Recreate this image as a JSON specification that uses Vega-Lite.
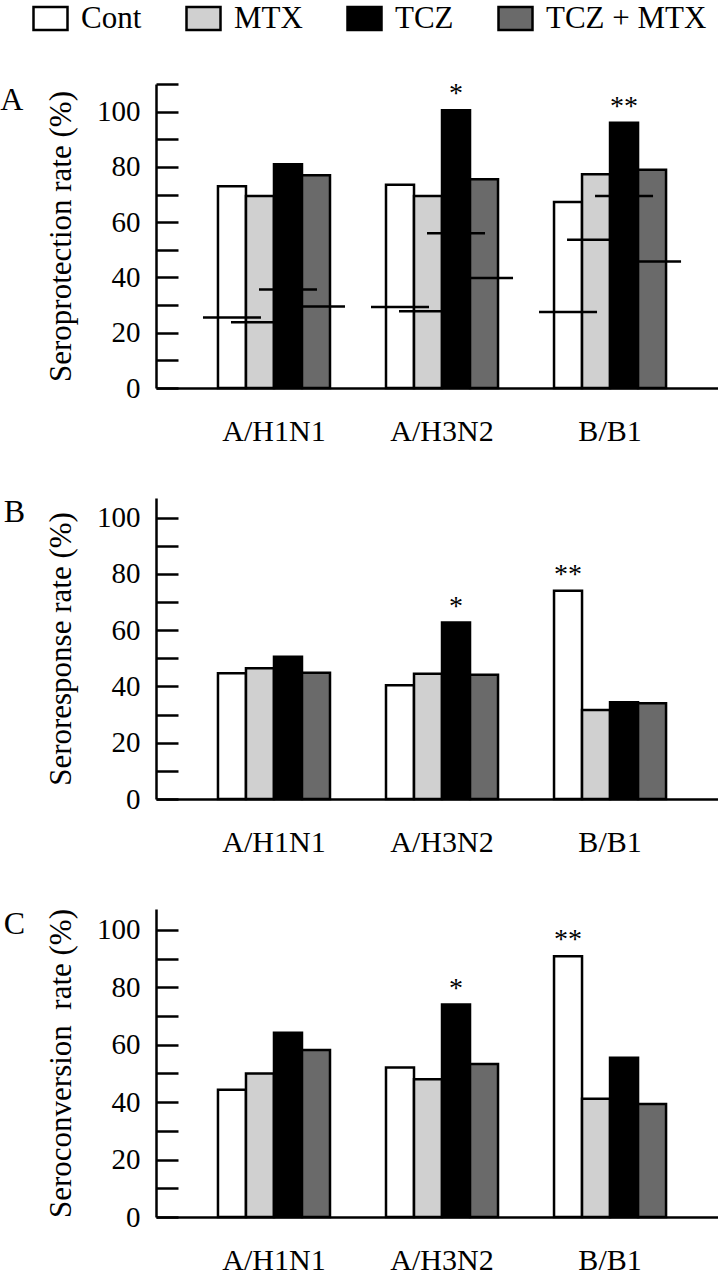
{
  "$schema": "https://vega.github.io/schema/vega-lite/v6.json",
  "padding": {"left": 0, "top": 0, "right": 0, "bottom": 0},
  "background": "white",
  "bounds": "flush",
  "spacing": 110,
  "datasets": {
    "protection": [
      {"virus": "A/H1N1", "group": "Cont", "value": 73, "pre": 25.5, "sig": ""},
      {"virus": "A/H1N1", "group": "MTX", "value": 69.5, "pre": 23.8, "sig": ""},
      {"virus": "A/H1N1", "group": "TCZ", "value": 81, "pre": 35.6, "sig": ""},
      {"virus": "A/H1N1", "group": "TCZ + MTX", "value": 77, "pre": 29.5, "sig": ""},
      {"virus": "A/H3N2", "group": "Cont", "value": 73.5, "pre": 29.3, "sig": ""},
      {"virus": "A/H3N2", "group": "MTX", "value": 69.5, "pre": 27.8, "sig": ""},
      {"virus": "A/H3N2", "group": "TCZ", "value": 100.5, "pre": 56, "sig": "*"},
      {"virus": "A/H3N2", "group": "TCZ + MTX", "value": 75.5, "pre": 39.8, "sig": ""},
      {"virus": "B/B1", "group": "Cont", "value": 67.3, "pre": 27.5, "sig": ""},
      {"virus": "B/B1", "group": "MTX", "value": 77.3, "pre": 53.6, "sig": ""},
      {"virus": "B/B1", "group": "TCZ", "value": 96, "pre": 69.5, "sig": "**"},
      {"virus": "B/B1", "group": "TCZ + MTX", "value": 79, "pre": 45.8, "sig": ""}
    ],
    "response": [
      {"virus": "A/H1N1", "group": "Cont", "value": 44.7, "sig": ""},
      {"virus": "A/H1N1", "group": "MTX", "value": 46.5, "sig": ""},
      {"virus": "A/H1N1", "group": "TCZ", "value": 50.6, "sig": ""},
      {"virus": "A/H1N1", "group": "TCZ + MTX", "value": 44.9, "sig": ""},
      {"virus": "A/H3N2", "group": "Cont", "value": 40.4, "sig": ""},
      {"virus": "A/H3N2", "group": "MTX", "value": 44.5, "sig": ""},
      {"virus": "A/H3N2", "group": "TCZ", "value": 62.7, "sig": "*"},
      {"virus": "A/H3N2", "group": "TCZ + MTX", "value": 44.2, "sig": ""},
      {"virus": "B/B1", "group": "Cont", "value": 74, "sig": "**"},
      {"virus": "B/B1", "group": "MTX", "value": 31.6, "sig": ""},
      {"virus": "B/B1", "group": "TCZ", "value": 34.4, "sig": ""},
      {"virus": "B/B1", "group": "TCZ + MTX", "value": 34, "sig": ""}
    ],
    "conversion": [
      {"virus": "A/H1N1", "group": "Cont", "value": 44.3, "sig": ""},
      {"virus": "A/H1N1", "group": "MTX", "value": 50, "sig": ""},
      {"virus": "A/H1N1", "group": "TCZ", "value": 64.2, "sig": ""},
      {"virus": "A/H1N1", "group": "TCZ + MTX", "value": 58.2, "sig": ""},
      {"virus": "A/H3N2", "group": "Cont", "value": 52.1, "sig": ""},
      {"virus": "A/H3N2", "group": "MTX", "value": 48, "sig": ""},
      {"virus": "A/H3N2", "group": "TCZ", "value": 74, "sig": "*"},
      {"virus": "A/H3N2", "group": "TCZ + MTX", "value": 53.3, "sig": ""},
      {"virus": "B/B1", "group": "Cont", "value": 90.8, "sig": "**"},
      {"virus": "B/B1", "group": "MTX", "value": 41.2, "sig": ""},
      {"virus": "B/B1", "group": "TCZ", "value": 55.5, "sig": ""},
      {"virus": "B/B1", "group": "TCZ + MTX", "value": 39.4, "sig": ""}
    ]
  },
  "config": {
    "font": "Liberation Serif",
    "view": {"stroke": null},
    "axis": {
      "domainColor": "black", "domainWidth": 2.5, "labelColor": "black", "titleColor": "black",
      "labelFont": "Liberation Serif", "titleFont": "Liberation Serif", "grid": false
    },
    "axisY": {
      "tickSize": -22, "tickWidth": 2.5, "tickColor": "black", "labelFontSize": 29, "labelPadding": 38,
      "labelFont": "Liberation Serif", "titleFont": "Liberation Serif",
      "titleFontSize": 31, "titleFontWeight": "normal", "titlePadding": 19, "values": [0, 20, 40, 60, 80, 100]
    },
    "axisX": {"ticks": false, "labelFontSize": 30, "labelPadding": 28, "labelAngle": 0, "title": null, "labelFont": "Liberation Serif"},
    "title": {
      "font": "Liberation Serif", "fontSize": 32, "fontWeight": "normal", "orient": "left", "anchor": "end",
      "angle": 0, "align": "right", "baseline": "top", "offset": 19, "color": "black", "dx": 20
    },
    "legend": {
      "symbolType": "M-1,-0.68H1V0.68H-1Z", "symbolSize": 1156, "symbolStrokeColor": "black",
      "symbolStrokeWidth": 2.5, "symbolOpacity": 1, "labelFontSize": 31, "labelFont": "Liberation Serif",
      "labelColor": "black", "labelOffset": 12, "columnPadding": 39, "padding": 0, "labelLimit": 0,
      "gridAlign": "none"
    }
  },
  "vconcat": [
    {
      "width": 562, "height": 304,
      "title": {"text": "A", "dy": 5},
      "data": {"name": "protection"},
      "encoding": {
        "x": {"field": "virus", "type": "nominal", "sort": null, "scale": {"paddingInner": 0.3333, "paddingOuter": 0.339, "align": 0.544}},
        "xOffset": {"field": "group", "type": "nominal", "sort": ["Cont", "MTX", "TCZ", "TCZ + MTX"], "scale": {"paddingInner": 0, "paddingOuter": 0}}
      },
      "layer": [
        {
          "mark": {"type": "bar", "stroke": "black", "strokeWidth": 2.5},
          "encoding": {
            "y": {"field": "value", "type": "quantitative", "scale": {"domain": [0, 110]}, "axis": {"title": "Seroprotection rate (%)"}},
            "fill": {"field": "group", "type": "nominal", "sort": ["Cont", "MTX", "TCZ", "TCZ + MTX"],
              "scale": {"domain": ["Cont", "MTX", "TCZ", "TCZ + MTX"], "range": ["#ffffff", "#d0d0d0", "#000000", "#6a6a6a"]},
              "legend": {"title": null, "orient": "none", "legendX": -124, "legendY": -84, "direction": "horizontal"}}
          }
        },
        {
          "mark": {"type": "tick", "color": "black", "size": 58, "thickness": 2.5, "opacity": 1},
          "encoding": {
            "y": {"field": "pre", "type": "quantitative", "scale": {"domain": [0, 110]}, "axis": {"title": "Seroprotection rate (%)"}}
          }
        },
        {
          "transform": [{"filter": "datum.sig != ''"}],
          "mark": {"type": "text", "fontSize": 28, "dy": -8, "baseline": "alphabetic", "font": "Liberation Serif", "color": "black"},
          "encoding": {
            "y": {"field": "value", "type": "quantitative", "scale": {"domain": [0, 110]}, "axis": {"title": "Seroprotection rate (%)"}},
            "text": {"field": "sig"}
          }
        }
      ]
    },
    {
      "width": 562, "height": 301,
      "title": {"text": "B", "dy": -1},
      "data": {"name": "response"},
      "encoding": {
        "x": {"field": "virus", "type": "nominal", "sort": null, "scale": {"paddingInner": 0.3333, "paddingOuter": 0.339, "align": 0.544}},
        "xOffset": {"field": "group", "type": "nominal", "sort": ["Cont", "MTX", "TCZ", "TCZ + MTX"], "scale": {"paddingInner": 0, "paddingOuter": 0}}
      },
      "layer": [
        {
          "mark": {"type": "bar", "stroke": "black", "strokeWidth": 2.5},
          "encoding": {
            "y": {"field": "value", "type": "quantitative", "scale": {"domain": [0, 107]}, "axis": {"title": "Seroresponse rate (%)"}},
            "fill": {"field": "group", "type": "nominal", "sort": ["Cont", "MTX", "TCZ", "TCZ + MTX"],
              "scale": {"domain": ["Cont", "MTX", "TCZ", "TCZ + MTX"], "range": ["#ffffff", "#d0d0d0", "#000000", "#6a6a6a"]},
              "legend": {"title": null, "orient": "none", "legendX": -124, "legendY": -84, "direction": "horizontal"}}
          }
        },
        {
          "transform": [{"filter": "datum.sig != ''"}],
          "mark": {"type": "text", "fontSize": 28, "dy": -8, "baseline": "alphabetic", "font": "Liberation Serif", "color": "black"},
          "encoding": {
            "y": {"field": "value", "type": "quantitative", "scale": {"domain": [0, 107]}, "axis": {"title": "Seroresponse rate (%)"}},
            "text": {"field": "sig"}
          }
        }
      ]
    },
    {
      "width": 562, "height": 308,
      "title": {"text": "C", "dy": 1},
      "data": {"name": "conversion"},
      "encoding": {
        "x": {"field": "virus", "type": "nominal", "sort": null, "scale": {"paddingInner": 0.3333, "paddingOuter": 0.339, "align": 0.544}},
        "xOffset": {"field": "group", "type": "nominal", "sort": ["Cont", "MTX", "TCZ", "TCZ + MTX"], "scale": {"paddingInner": 0, "paddingOuter": 0}}
      },
      "layer": [
        {
          "mark": {"type": "bar", "stroke": "black", "strokeWidth": 2.5},
          "encoding": {
            "y": {"field": "value", "type": "quantitative", "scale": {"domain": [0, 107.3]}, "axis": {"title": "Seroconversion\u00a0 rate (%)"}},
            "fill": {"field": "group", "type": "nominal", "sort": ["Cont", "MTX", "TCZ", "TCZ + MTX"],
              "scale": {"domain": ["Cont", "MTX", "TCZ", "TCZ + MTX"], "range": ["#ffffff", "#d0d0d0", "#000000", "#6a6a6a"]},
              "legend": {"title": null, "orient": "none", "legendX": -124, "legendY": -84, "direction": "horizontal"}}
          }
        },
        {
          "transform": [{"filter": "datum.sig != ''"}],
          "mark": {"type": "text", "fontSize": 28, "dy": -8, "baseline": "alphabetic", "font": "Liberation Serif", "color": "black"},
          "encoding": {
            "y": {"field": "value", "type": "quantitative", "scale": {"domain": [0, 107.3]}, "axis": {"title": "Seroconversion\u00a0 rate (%)"}},
            "text": {"field": "sig"}
          }
        }
      ]
    }
  ]
}
